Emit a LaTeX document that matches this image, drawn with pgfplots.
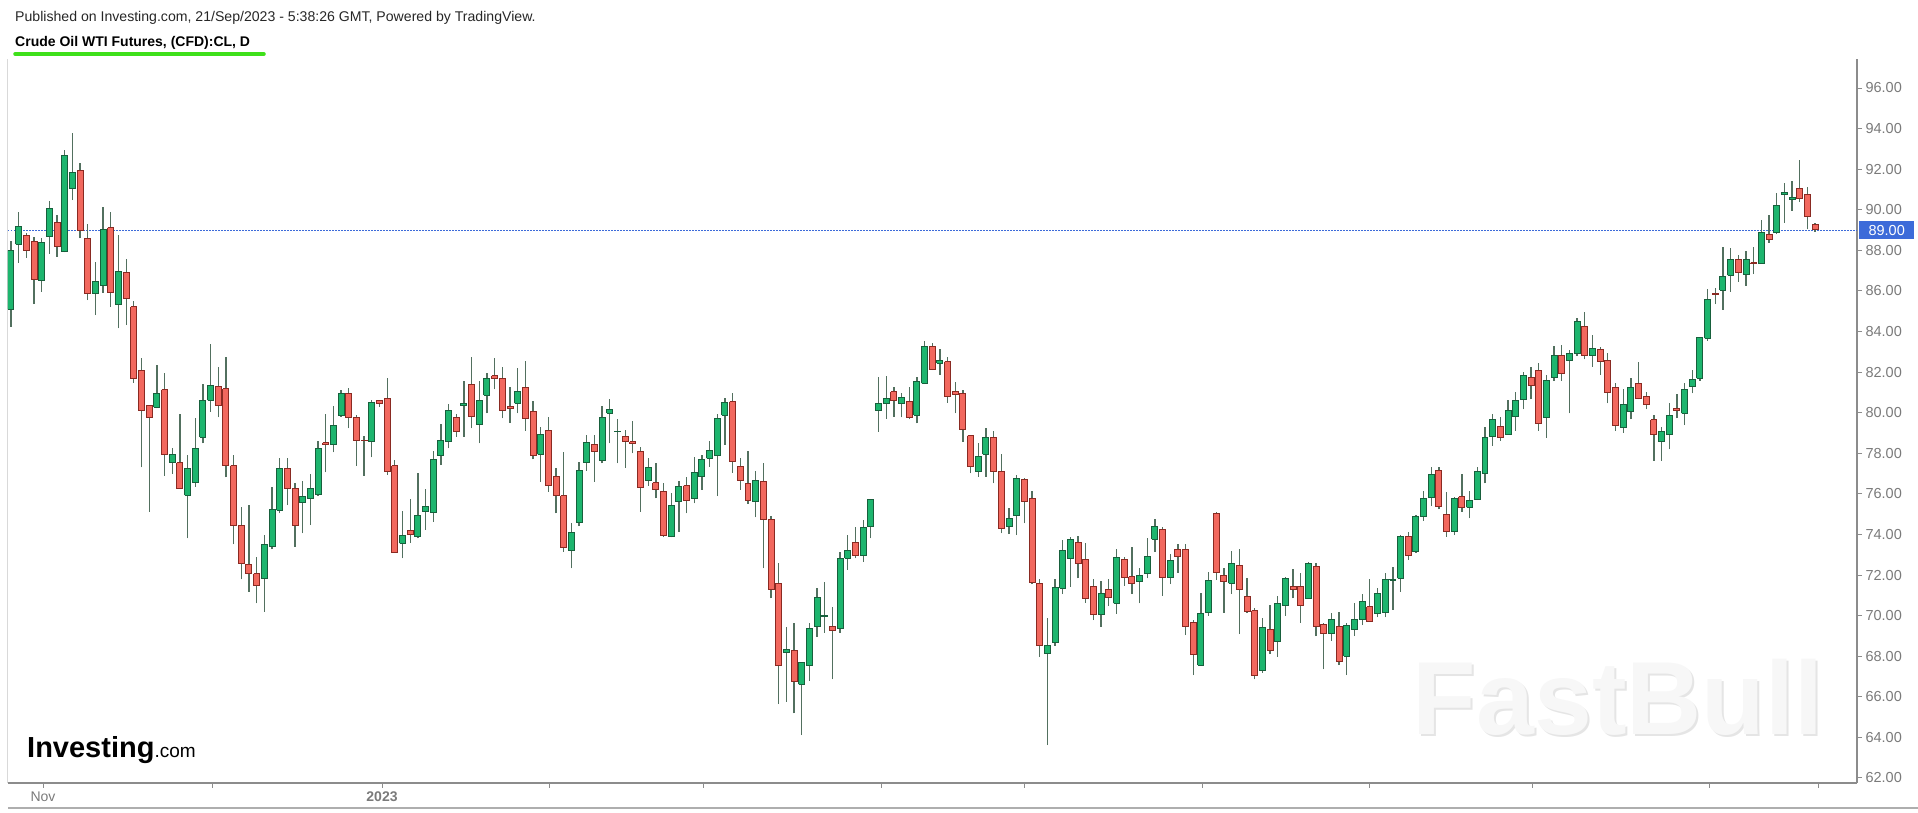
\documentclass[border=0pt]{standalone}
\usepackage{fontspec}
\setmainfont{Liberation Sans}
\usepackage{pgfplots}
\pgfplotsset{compat=1.18}

\definecolor{upfill}{HTML}{1DB56E}
\definecolor{upline}{HTML}{17603C}
\definecolor{dnfill}{HTML}{F2685E}
\definecolor{dnline}{HTML}{8A2A22}
\definecolor{wickc}{HTML}{52705F}
\definecolor{axgray}{HTML}{8C8C8C}
\definecolor{lblgray}{HTML}{7A7A7A}
\definecolor{priceblue}{HTML}{3D6BD9}

\tikzset{
  wick/.style={draw=wickc, line width=1.3pt},
  up/.style={fill=upfill, draw=upline, line width=1pt, line join=miter},
  down/.style={fill=dnfill, draw=dnline, line width=1pt, line join=miter},
}
\newcommand\fs[1]{\fontsize{#1}{#1}\selectfont}
% \candle{index}{open}{high}{low}{close}
\newcommand\candle[5]{%
  \pgfmathsetmacro\xa{#1-0.39}%
  \pgfmathsetmacro\xb{#1+0.39}%
  \ifdim #5pt<#2pt \def\cstyle{down}\else\def\cstyle{up}\fi
  \edef\tmp{%
    \noexpand\addplot[wick] coordinates {(#1,#4) (#1,#3)};%
    \noexpand\addplot[\cstyle] coordinates {(\xa,#2) (\xb,#2) (\xb,#5) (\xa,#5) (\xa,#2)};%
  }\tmp}

\begin{document}
\begin{tikzpicture}[x=1pt,y=1pt]
\path[use as bounding box] (-8,-30) rectangle (1910,783);

% header
\node[anchor=base west, inner sep=0, text=black!85] at (7,761) {\fs{14.1}Published on Investing.com, 21/Sep/2023 - 5:38:26 GMT, Powered by TradingView.};
\node[anchor=base west, inner sep=0] at (7,736) {\fs{14}\bfseries Crude Oil WTI Futures, (CFD):CL, D};
\draw[color={rgb,255:red,62;green,224;blue,26}, line width=3.5pt, line cap=round] (7,729) -- (256,729);

% watermark and logo
\node[anchor=center, inner sep=0, text=black!10] at (1612,84) {\fs{104}\bfseries FastBull};
\node[anchor=center, inner sep=0, text=black!3] at (1610,86) {\fs{104}\bfseries FastBull};
\node[anchor=base west, inner sep=0] at (19,25) {\fs{29}\bfseries Investing{\fs{19}\mdseries .com}};

\draw[black!15, line width=1pt] (0,0) -- (0,724);
\draw[axgray!70, line width=1.4pt] (0,-25) -- (1910,-25);

\begin{axis}[
  at={(0,0)}, anchor=south west,
  scale only axis, width=1849pt, height=724pt,
  xmin=0.61, xmax=241.46, ymin=61.75, ymax=97.43,
  axis x line*=bottom, axis y line*=right,
  axis line style={draw=axgray, line width=1.4pt},
  tick style={draw=axgray, line width=1pt},
  tick align=outside, major tick length=5pt,
  ytick={62,64,...,96},
  yticklabel={\pgfmathprintnumber[assume math mode=true,fixed,fixed zerofill,precision=2]{\tick}},
  yticklabel style={font=\fs{14.5}, text=lblgray},
  xtick={5.17,27.31,49.33,71.08,91.14,114.33,133.08,156.14,178.02,199.25,222.18,236.38},
  xticklabels={Nov,,\textbf{2023},,,,,,,,,},
  xticklabel style={font=\fs{14}, text=lblgray},
]
\addplot[draw=priceblue, line width=1pt, dash pattern=on 1.5pt off 1.5pt] coordinates {(0.61,89) (241.46,89)};
\coordinate (last) at (axis cs:241.46,89);

\candle{1}{85.09}{88.48}{84.24}{87.97}
\candle{2}{88.31}{89.89}{87.39}{89.17}
\candle{3}{88.72}{88.84}{87.64}{87.97}
\candle{4}{88.46}{88.67}{85.35}{86.57}
\candle{5}{86.49}{88.59}{85.96}{88.38}
\candle{6}{88.67}{90.45}{87.82}{90.07}
\candle{7}{89.38}{89.72}{87.69}{88.18}
\candle{8}{87.93}{92.94}{87.90}{92.67}
\candle{9}{91.06}{93.80}{90.48}{91.83}
\candle{10}{91.91}{92.29}{88.59}{88.97}
\candle{11}{88.59}{89.30}{85.55}{85.88}
\candle{12}{85.88}{87.44}{84.81}{86.46}
\candle{13}{86.29}{90.15}{85.91}{89.03}
\candle{14}{89.12}{89.91}{85.22}{85.91}
\candle{15}{85.31}{88.76}{84.16}{86.97}
\candle{16}{86.92}{87.56}{84.32}{85.63}
\candle{17}{85.22}{85.52}{81.48}{81.66}
\candle{18}{82.10}{82.68}{77.31}{80.10}
\candle{19}{80.33}{80.38}{75.12}{79.77}
\candle{20}{80.26}{82.35}{80.21}{80.95}
\candle{21}{81.12}{81.94}{76.88}{77.95}
\candle{22}{77.54}{78.24}{76.98}{77.95}
\candle{23}{77.54}{79.93}{76.27}{76.27}
\candle{24}{75.94}{77.91}{73.80}{77.26}
\candle{25}{76.56}{79.72}{76.35}{78.24}
\candle{26}{78.78}{81.41}{78.49}{80.62}
\candle{27}{80.62}{83.37}{80.05}{81.36}
\candle{28}{81.31}{82.27}{79.77}{80.33}
\candle{29}{81.17}{82.73}{76.81}{77.39}
\candle{30}{77.39}{77.91}{73.51}{74.43}
\candle{31}{74.43}{75.37}{71.78}{72.57}
\candle{32}{72.54}{75.45}{71.18}{72.05}
\candle{33}{72.05}{72.90}{70.60}{71.50}
\candle{34}{71.83}{73.97}{70.20}{73.48}
\candle{35}{73.39}{76.35}{73.26}{75.23}
\candle{36}{75.20}{77.75}{75.04}{77.26}
\candle{37}{77.26}{77.75}{75.45}{76.27}
\candle{38}{76.27}{76.55}{73.39}{74.43}
\candle{39}{75.56}{76.63}{74.05}{75.89}
\candle{40}{75.76}{76.98}{74.46}{76.25}
\candle{41}{75.97}{78.62}{75.89}{78.24}
\candle{42}{78.52}{79.93}{77.06}{78.44}
\candle{43}{78.44}{80.33}{78.04}{79.36}
\candle{44}{79.88}{81.12}{79.80}{80.95}
\candle{45}{80.95}{81.20}{79.23}{79.77}
\candle{46}{79.77}{79.88}{77.39}{78.62}
\candle{47}{78.65}{78.85}{76.88}{78.62}
\candle{48}{78.57}{80.62}{77.80}{80.49}
\candle{49}{80.62}{80.62}{80.30}{80.46}
\candle{50}{80.69}{81.69}{76.93}{77.09}
\candle{51}{77.39}{77.67}{73.11}{73.11}
\candle{52}{73.56}{75.17}{72.82}{73.94}
\candle{53}{74.18}{75.73}{73.59}{74.02}
\candle{54}{73.89}{77.01}{73.80}{74.95}
\candle{55}{75.12}{76.22}{74.22}{75.37}
\candle{56}{75.07}{78.11}{74.63}{77.67}
\candle{57}{77.88}{79.44}{77.42}{78.65}
\candle{58}{78.57}{80.43}{78.24}{80.13}
\candle{59}{79.77}{79.93}{78.82}{79.06}
\candle{60}{80.33}{81.56}{78.82}{80.46}
\candle{61}{81.40}{82.73}{79.23}{79.83}
\candle{62}{79.42}{81.56}{78.49}{80.62}
\candle{63}{80.87}{81.97}{79.97}{81.66}
\candle{64}{81.81}{82.68}{81.15}{81.66}
\candle{65}{81.66}{82.27}{79.72}{80.13}
\candle{66}{80.28}{81.28}{79.51}{80.20}
\candle{67}{80.46}{82.18}{79.97}{81.03}
\candle{68}{81.25}{82.55}{79.11}{79.69}
\candle{69}{80.05}{80.57}{77.70}{77.88}
\candle{70}{77.94}{79.31}{76.60}{78.90}
\candle{71}{79.10}{79.80}{76.10}{76.40}
\candle{72}{76.84}{77.26}{75.04}{75.91}
\candle{73}{75.91}{78.04}{73.15}{73.36}
\candle{74}{73.23}{74.54}{72.33}{74.10}
\candle{75}{74.58}{77.58}{74.41}{77.17}
\candle{76}{77.53}{78.90}{77.14}{78.52}
\candle{77}{78.45}{78.90}{76.60}{78.08}
\candle{78}{77.63}{80.33}{77.50}{79.77}
\candle{79}{79.97}{80.66}{78.49}{80.18}
\candle{80}{79.05}{79.67}{77.50}{79.08}
\candle{81}{78.85}{79.15}{77.29}{78.57}
\candle{82}{78.57}{79.59}{78.00}{78.50}
\candle{83}{78.11}{78.32}{75.12}{76.32}
\candle{84}{76.68}{77.75}{76.39}{77.31}
\candle{85}{76.55}{77.54}{75.78}{76.19}
\candle{86}{76.14}{76.55}{73.89}{73.94}
\candle{87}{73.92}{76.02}{73.86}{75.42}
\candle{88}{75.61}{76.65}{74.14}{76.35}
\candle{89}{76.40}{76.85}{75.04}{75.69}
\candle{90}{75.78}{77.83}{75.53}{77.04}
\candle{91}{76.85}{77.91}{76.19}{77.67}
\candle{92}{77.75}{78.60}{77.34}{78.16}
\candle{93}{77.88}{79.93}{75.89}{79.72}
\candle{94}{79.88}{80.71}{78.41}{80.49}
\candle{95}{80.54}{80.98}{77.04}{77.58}
\candle{96}{77.34}{77.75}{76.19}{76.68}
\candle{97}{76.52}{78.13}{75.50}{75.69}
\candle{98}{75.61}{77.14}{74.84}{76.68}
\candle{99}{76.63}{77.50}{72.33}{74.76}
\candle{100}{74.74}{74.92}{70.85}{71.29}
\candle{101}{71.59}{72.57}{65.64}{67.56}
\candle{102}{68.19}{69.45}{65.76}{68.34}
\candle{103}{68.27}{69.62}{65.18}{66.74}
\candle{104}{66.61}{67.70}{64.11}{67.68}
\candle{105}{67.56}{69.62}{66.79}{69.34}
\candle{106}{69.48}{71.34}{68.96}{70.90}
\candle{107}{69.97}{71.67}{69.16}{69.99}
\candle{108}{69.48}{70.40}{66.86}{69.25}
\candle{109}{69.37}{73.12}{69.16}{72.82}
\candle{110}{72.82}{73.97}{72.25}{73.20}
\candle{111}{73.61}{74.38}{72.82}{72.95}
\candle{112}{72.98}{74.71}{72.66}{74.35}
\candle{113}{74.38}{75.70}{73.81}{75.70}
\candle{114}{80.10}{81.74}{79.06}{80.46}
\candle{115}{80.46}{81.81}{79.69}{80.71}
\candle{116}{81.03}{81.25}{79.80}{80.62}
\candle{117}{80.43}{80.98}{79.77}{80.74}
\candle{118}{80.54}{81.28}{79.67}{79.77}
\candle{119}{79.88}{81.74}{79.47}{81.53}
\candle{120}{81.44}{83.55}{81.41}{83.28}
\candle{121}{83.28}{83.45}{82.10}{82.13}
\candle{122}{82.43}{83.12}{81.86}{82.56}
\candle{123}{82.51}{82.73}{80.49}{80.82}
\candle{124}{81.03}{81.53}{79.97}{80.92}
\candle{125}{80.95}{81.12}{78.57}{79.19}
\candle{126}{78.87}{78.90}{77.01}{77.34}
\candle{127}{77.09}{78.49}{76.84}{77.86}
\candle{128}{77.95}{79.23}{76.84}{78.78}
\candle{129}{78.78}{79.09}{76.52}{77.09}
\candle{130}{77.09}{77.96}{74.05}{74.30}
\candle{131}{74.38}{75.28}{74.02}{74.79}
\candle{132}{74.91}{76.93}{73.97}{76.76}
\candle{133}{76.71}{76.76}{74.55}{75.61}
\candle{134}{75.78}{76.16}{71.55}{71.62}
\candle{135}{71.59}{71.79}{67.97}{68.55}
\candle{136}{68.14}{69.86}{63.62}{68.55}
\candle{137}{68.68}{71.79}{68.52}{71.37}
\candle{138}{71.34}{73.72}{71.06}{73.20}
\candle{139}{72.82}{73.86}{71.42}{73.76}
\candle{140}{73.61}{73.92}{71.83}{72.57}
\candle{141}{72.77}{73.56}{70.63}{70.85}
\candle{142}{71.42}{71.79}{69.78}{70.03}
\candle{143}{70.03}{71.72}{69.45}{71.09}
\candle{144}{71.29}{71.79}{70.47}{70.88}
\candle{145}{70.60}{73.26}{70.08}{72.87}
\candle{146}{72.77}{72.90}{71.46}{71.88}
\candle{147}{71.92}{73.40}{71.06}{71.59}
\candle{148}{71.67}{72.33}{70.60}{72.00}
\candle{149}{72.05}{73.84}{71.83}{72.90}
\candle{150}{73.76}{74.74}{73.15}{74.38}
\candle{151}{74.25}{74.35}{70.98}{71.87}
\candle{152}{71.87}{73.03}{71.55}{72.70}
\candle{153}{73.26}{73.53}{72.11}{72.90}
\candle{154}{73.26}{73.53}{69.04}{69.48}
\candle{155}{69.65}{69.78}{67.07}{68.06}
\candle{156}{67.56}{71.09}{67.56}{70.11}
\candle{157}{70.14}{72.16}{70.00}{71.75}
\candle{158}{75.04}{75.12}{71.75}{72.11}
\candle{159}{72.00}{72.37}{70.14}{71.70}
\candle{160}{71.59}{73.20}{71.06}{72.57}
\candle{161}{72.49}{73.26}{69.09}{71.29}
\candle{162}{70.96}{71.83}{70.14}{70.19}
\candle{163}{70.24}{70.35}{66.86}{67.07}
\candle{164}{67.28}{69.86}{67.18}{69.42}
\candle{165}{69.33}{70.52}{68.10}{68.27}
\candle{166}{68.71}{70.96}{67.97}{70.60}
\candle{167}{70.52}{71.92}{69.98}{71.83}
\candle{168}{71.45}{72.28}{70.85}{71.29}
\candle{169}{71.45}{72.08}{69.65}{70.52}
\candle{170}{70.85}{72.65}{70.85}{72.57}
\candle{171}{72.44}{72.60}{68.99}{69.45}
\candle{172}{69.57}{69.65}{67.35}{69.12}
\candle{173}{69.12}{70.14}{68.76}{69.81}
\candle{174}{69.48}{70.19}{67.56}{67.73}
\candle{175}{68.00}{69.65}{67.07}{69.53}
\candle{176}{69.29}{70.60}{68.99}{69.81}
\candle{177}{69.81}{71.06}{69.53}{70.68}
\candle{178}{70.44}{71.78}{69.73}{69.73}
\candle{179}{70.08}{71.34}{69.91}{71.09}
\candle{180}{70.14}{72.11}{69.91}{71.78}
\candle{181}{71.75}{72.38}{70.30}{71.80}
\candle{182}{71.83}{73.97}{71.18}{73.92}
\candle{183}{73.89}{74.13}{72.74}{72.98}
\candle{184}{73.15}{74.96}{73.10}{74.87}
\candle{185}{74.87}{76.15}{74.68}{75.78}
\candle{186}{75.83}{77.34}{75.40}{76.93}
\candle{187}{77.17}{77.34}{75.23}{75.40}
\candle{188}{75.00}{76.10}{73.89}{74.13}
\candle{189}{74.13}{75.86}{73.97}{75.78}
\candle{190}{75.86}{76.98}{75.12}{75.33}
\candle{191}{75.33}{76.15}{74.79}{75.65}
\candle{192}{75.70}{77.34}{75.70}{77.09}
\candle{193}{77.01}{79.31}{76.52}{78.78}
\candle{194}{78.82}{79.93}{78.36}{79.64}
\candle{195}{79.34}{79.80}{78.62}{78.78}
\candle{196}{78.90}{80.62}{78.90}{80.13}
\candle{197}{79.80}{81.03}{79.11}{80.62}
\candle{198}{80.66}{82.02}{80.16}{81.81}
\candle{199}{81.74}{82.23}{80.66}{81.36}
\candle{200}{82.10}{82.43}{79.10}{79.47}
\candle{201}{79.75}{81.86}{78.77}{81.61}
\candle{202}{81.72}{83.28}{81.56}{82.84}
\candle{203}{82.84}{83.33}{81.58}{81.94}
\candle{204}{82.59}{83.09}{79.97}{82.92}
\candle{205}{82.92}{84.68}{82.79}{84.48}
\candle{206}{84.27}{84.98}{82.63}{82.84}
\candle{207}{82.84}{83.83}{82.27}{83.17}
\candle{208}{83.12}{83.25}{81.86}{82.51}
\candle{209}{82.59}{82.92}{80.46}{81.00}
\candle{210}{81.25}{81.48}{79.11}{79.39}
\candle{211}{79.27}{81.15}{79.01}{80.41}
\candle{212}{80.05}{81.69}{79.67}{81.25}
\candle{213}{81.44}{82.51}{80.66}{80.70}
\candle{214}{80.82}{81.03}{80.16}{80.38}
\candle{215}{79.64}{79.88}{77.63}{78.90}
\candle{216}{78.57}{79.31}{77.63}{79.06}
\candle{217}{78.90}{80.46}{78.19}{79.84}
\candle{218}{80.21}{80.92}{79.72}{80.13}
\candle{219}{79.96}{81.44}{79.39}{81.15}
\candle{220}{81.31}{82.10}{80.95}{81.64}
\candle{221}{81.69}{83.74}{81.58}{83.69}
\candle{222}{83.66}{86.09}{83.55}{85.58}
\candle{223}{85.88}{86.16}{85.35}{85.83}
\candle{224}{86.04}{88.15}{85.06}{86.73}
\candle{225}{86.78}{88.10}{85.96}{87.57}
\candle{226}{87.57}{87.77}{86.45}{86.91}
\candle{227}{86.83}{87.98}{86.26}{87.57}
\candle{228}{87.39}{88.18}{86.83}{87.34}
\candle{229}{87.33}{89.50}{87.33}{88.87}
\candle{230}{88.79}{89.74}{88.38}{88.54}
\candle{231}{88.87}{90.84}{88.80}{90.23}
\candle{232}{90.73}{91.30}{89.36}{90.84}
\candle{233}{90.51}{91.43}{89.95}{90.61}
\candle{234}{91.05}{92.45}{90.40}{90.56}
\candle{235}{90.73}{91.14}{89.03}{89.69}
\candle{236}{89.25}{89.33}{88.92}{89.03}
\end{axis}

\node[anchor=west, fill=priceblue, text=white, inner sep=0pt, minimum width=55pt, minimum height=18pt, font=\fs{14.5}] at ([xshift=2pt]last) {89.00};
\end{tikzpicture}
\end{document}
